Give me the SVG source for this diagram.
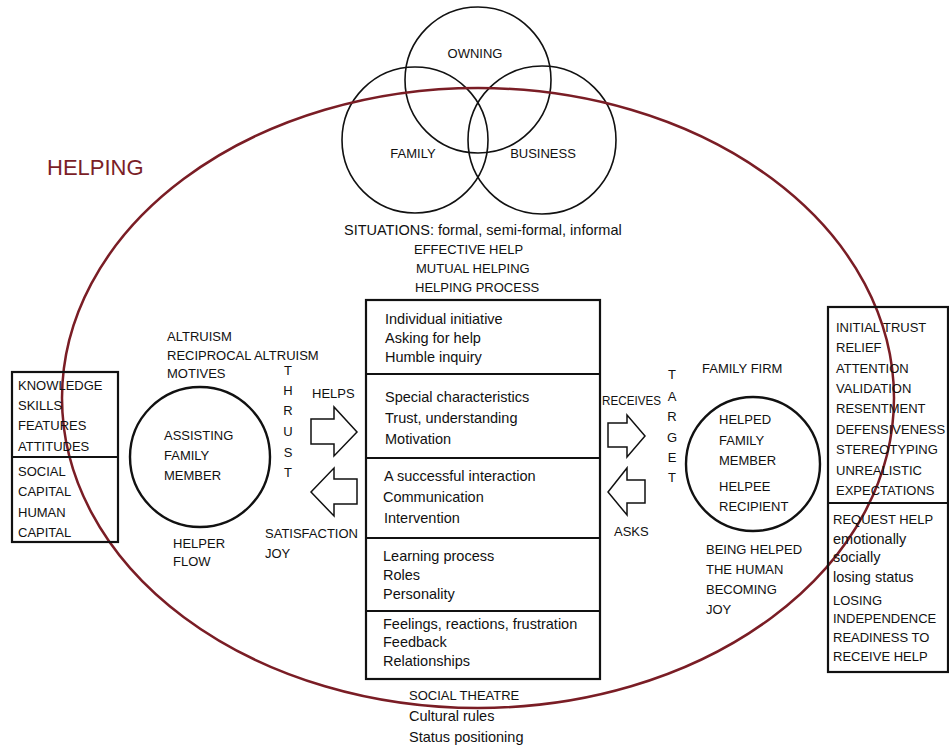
<svg xmlns="http://www.w3.org/2000/svg" width="949" height="747" viewBox="0 0 949 747">
<style>
text{font-family:"Liberation Sans",Arial,sans-serif;fill:#111}
.c{font-size:13px}
.l{font-size:14.5px}
.bx{fill:none;stroke:#111;stroke-width:2.2}
.ci{fill:none;stroke:#111;stroke-width:2.4}
.v{fill:none;stroke:#111;stroke-width:1.6}
.ar{fill:#fff;stroke:#111;stroke-width:1.5;stroke-linejoin:miter}
.mid{text-anchor:middle}
</style>
<rect width="949" height="747" fill="#fff"/>

<g id="venn">
<circle class="v" cx="478" cy="80" r="73"/>
<circle class="v" cx="415" cy="140" r="73"/>
<circle class="v" cx="542" cy="140" r="74"/>
<text class="c mid" x="475" y="58">OWNING</text>
<text class="c mid" x="413" y="158">FAMILY</text>
<text class="c mid" x="543" y="158">BUSINESS</text>
</g>

<g id="helping">
<ellipse cx="478" cy="398" rx="416" ry="310" fill="none" stroke="#7a1d25" stroke-width="2.5"/>
<text x="47" y="175" style="font-size:22px;fill:#7b1e27">HELPING</text>
</g>

<g id="situations">
<text class="l" x="344" y="235">SITUATIONS: formal, semi-formal, informal</text>
<text class="c" x="414" y="254">EFFECTIVE HELP</text>
<text class="c" x="416" y="273">MUTUAL HELPING</text>
<text class="c" x="415" y="292">HELPING PROCESS</text>
</g>

<g id="process-box">
<rect class="bx" x="366" y="300" width="234" height="379"/>
<line class="bx" x1="366" y1="374" x2="600" y2="374"/>
<line class="bx" x1="366" y1="458" x2="600" y2="458"/>
<line class="bx" x1="366" y1="538" x2="600" y2="538"/>
<line class="bx" x1="366" y1="611" x2="600" y2="611"/>
<text class="l" x="385" y="324">Individual initiative</text>
<text class="l" x="385" y="343">Asking for help</text>
<text class="l" x="385" y="362">Humble inquiry</text>
<text class="l" x="385" y="402">Special characteristics</text>
<text class="l" x="385" y="423">Trust, understanding</text>
<text class="l" x="385" y="444">Motivation</text>
<text class="l" x="384" y="481">A successful interaction</text>
<text class="l" x="383" y="502">Communication</text>
<text class="l" x="384" y="523">Intervention</text>
<text class="l" x="383" y="561">Learning process</text>
<text class="l" x="383" y="580">Roles</text>
<text class="l" x="383" y="599">Personality</text>
<text class="l" x="383" y="629">Feelings, reactions, frustration</text>
<text class="l" x="383" y="647">Feedback</text>
<text class="l" x="383" y="666">Relationships</text>
</g>

<g id="social-theatre">
<text class="c" x="409" y="700">SOCIAL THEATRE</text>
<text class="l" x="409" y="721">Cultural rules</text>
<text class="l" x="409" y="742">Status positioning</text>
</g>

<g id="helper-capital">
<rect class="bx" x="12" y="372" width="106" height="170" stroke-width="2.5"/>
<line class="bx" x1="12" y1="457" x2="118" y2="457" stroke-width="2.5"/>
<text class="c" x="18" y="390">KNOWLEDGE</text>
<text class="c" x="18" y="410">SKILLS</text>
<text class="c" x="18" y="430">FEATURES</text>
<text class="c" x="18" y="451">ATTITUDES</text>
<text class="c" x="18" y="476">SOCIAL</text>
<text class="c" x="18" y="496">CAPITAL</text>
<text class="c" x="18" y="517">HUMAN</text>
<text class="c" x="18" y="537">CAPITAL</text>
</g>

<g id="assisting-member">
<circle class="ci" cx="200" cy="457" r="70"/>
<text class="c" x="164" y="440">ASSISTING</text>
<text class="c" x="164" y="460">FAMILY</text>
<text class="c" x="164" y="480">MEMBER</text>
</g>

<g id="helper-labels">
<text class="c" x="167" y="341">ALTRUISM</text>
<text class="c" x="167" y="360">RECIPROCAL ALTRUISM</text>
<text class="c" x="167" y="378">MOTIVES</text>
<text class="c" x="173" y="548">HELPER</text>
<text class="c" x="173" y="566">FLOW</text>
<text class="c" x="265" y="538">SATISFACTION</text>
<text class="c" x="265" y="558">JOY</text>
<text class="c" x="312" y="398">HELPS</text>
<text class="c mid" x="288" y="375">T</text>
<text class="c mid" x="288" y="395">H</text>
<text class="c mid" x="288" y="415">R</text>
<text class="c mid" x="288" y="436">U</text>
<text class="c mid" x="288" y="457">S</text>
<text class="c mid" x="288" y="477">T</text>
</g>

<g id="helped-member">
<circle class="ci" cx="753" cy="464" r="67"/>
<text class="c" x="719" y="424">HELPED</text>
<text class="c" x="719" y="445">FAMILY</text>
<text class="c" x="719" y="465">MEMBER</text>
<text class="c" x="719" y="491">HELPEE</text>
<text class="c" x="719" y="511">RECIPIENT</text>
</g>

<g id="helped-labels">
<text class="c" x="702" y="373">FAMILY FIRM</text>
<text class="c" x="602" y="405" textLength="59" lengthAdjust="spacingAndGlyphs">RECEIVES</text>
<text class="c" x="614" y="536">ASKS</text>
<text class="c" x="706" y="554">BEING HELPED</text>
<text class="c" x="706" y="574">THE HUMAN</text>
<text class="c" x="706" y="594">BECOMING</text>
<text class="c" x="706" y="614">JOY</text>
<text class="c mid" x="672" y="379">T</text>
<text class="c mid" x="672" y="401">A</text>
<text class="c mid" x="672" y="421">R</text>
<text class="c mid" x="672" y="442">G</text>
<text class="c mid" x="672" y="462">E</text>
<text class="c mid" x="672" y="482">T</text>
</g>

<g id="helpee-reactions">
<rect class="bx" x="828" y="307" width="120" height="365" stroke-width="2.5"/>
<line class="bx" x1="828" y1="503" x2="948" y2="503" stroke-width="2.5"/>
<text class="c" x="836" y="332">INITIAL TRUST</text>
<text class="c" x="836" y="352">RELIEF</text>
<text class="c" x="836" y="373">ATTENTION</text>
<text class="c" x="836" y="393">VALIDATION</text>
<text class="c" x="836" y="413">RESENTMENT</text>
<text class="c" x="836" y="434">DEFENSIVENESS</text>
<text class="c" x="836" y="454">STEREOTYPING</text>
<text class="c" x="836" y="475">UNREALISTIC</text>
<text class="c" x="836" y="495">EXPECTATIONS</text>
<text class="c" x="833" y="524">REQUEST HELP</text>
<text class="l" x="833" y="544">emotionally</text>
<text class="l" x="833" y="562">socially</text>
<text class="l" x="833" y="582">losing status</text>
<text class="c" x="833" y="605">LOSING</text>
<text class="c" x="833" y="623">INDEPENDENCE</text>
<text class="c" x="833" y="642">READINESS TO</text>
<text class="c" x="833" y="661">RECEIVE HELP</text>
</g>

<g id="connectors">
<polygon class="ar" points="311,419 334,419 334,407 357,432 334,456 334,444 311,444"/>
<polygon class="ar" points="357,479 334,479 334,468 311,492 334,516 334,504 357,504"/>
<polygon class="ar" points="608,423 627,423 627,415 645,436 627,457 627,447 608,447"/>
<polygon class="ar" points="645,480 627,480 627,468 608,492 627,515 627,503 645,503"/>
</g>
</svg>
